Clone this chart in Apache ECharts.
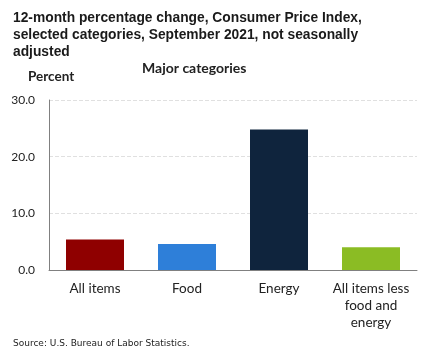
<!DOCTYPE html>
<html>
<head>
<meta charset="utf-8">
<script src="https://cdn.jsdelivr.net/npm/echarts@6/dist/echarts.min.js"></script>
<style>
  html, body { margin: 0; padding: 0; background: #fff; }
  #chart { width: 432px; height: 353px; }
</style>
</head>
<body>
<div id="chart"></div>
<script>
// data
const categories = ["All items", "Food", "Energy", "All items less\nfood and\nenergy"];
const values = [5.4, 4.6, 24.8, 4.0];
const barColors = ["#8f0000", "#2e7fd9", "#0f243d", "#8bbc24"];

const myChart = echarts.init(document.getElementById("chart"));
const option = {
  animation: false,
  title: [
    {
      text: "12-month percentage change, Consumer Price Index,\nselected categories, September 2021, not seasonally\nadjusted",
      left: 8,
      top: 5,
      textStyle: {
        fontFamily: "Liberation Sans",
        fontWeight: "bold",
        fontSize: 13.8,
        lineHeight: 17,
        color: "#1a1a1a"
      }
    },
    {
      text: "Major categories",
      left: 137,
      top: 56,
      textStyle: { fontFamily: "Lato", fontWeight: "bold", fontSize: 14, color: "#222" }
    },
    {
      text: "Percent",
      left: 23,
      top: 65,
      textStyle: { fontFamily: "Lato", fontWeight: "bold", fontSize: 13.5, color: "#222" }
    },
    {
      text: "Source: U.S. Bureau of Labor Statistics.",
      left: 8,
      top: 334,
      textStyle: { fontFamily: "DejaVu Sans", fontWeight: "normal", fontSize: 9, color: "#222" }
    }
  ],
  grid: { left: 49, right: 15, top: 100, bottom: 83, containLabel: false },
  xAxis: {
    type: "category",
    data: categories,
    axisLine: { lineStyle: { color: "#808080", width: 1 } },
    axisTick: { show: false },
    axisLabel: {
      interval: 0,
      margin: 10,
      fontFamily: "Lato",
      fontSize: 13.5,
      lineHeight: 17,
      color: "#222"
    }
  },
  yAxis: {
    type: "value",
    min: 0,
    max: 30,
    interval: 10,
    axisLine: { show: true, lineStyle: { color: "#808080", width: 1 } },
    axisTick: { show: false },
    splitLine: { lineStyle: { color: "#e0e0e0", type: "dashed" } },
    axisLabel: {
      formatter: v => v.toFixed(1),
      fontFamily: "Lato",
      fontSize: 12,
      color: "#222",
      margin: 14
    }
  },
  series: [{
    type: "bar",
    barWidth: 58,
    data: values.map((v, i) => ({ value: v, itemStyle: { color: barColors[i] } }))
  }]
};
myChart.setOption(option);
</script>
</body>
</html>
